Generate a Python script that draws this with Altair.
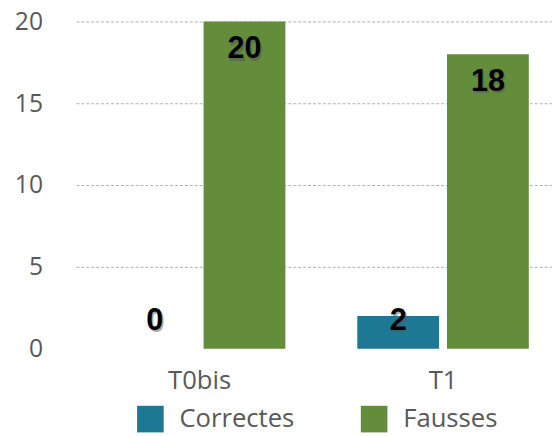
import altair as alt
import pandas as pd

categories = ["T0bis", "T1"]
series = ["Correctes", "Fausses"]
correctes = [0, 2]
fausses = [20, 18]
colors = ["#1C7893", "#638C3B"]

rows = []
for i, c in enumerate(categories):
    rows.append({"cat": c, "serie": "Correctes", "value": correctes[i]})
    rows.append({"cat": c, "serie": "Fausses", "value": fausses[i]})
df = pd.DataFrame(rows)

FONT = "Open Sans"
GRAY = "#595959"

x_enc = alt.X("cat:N", sort=categories, title=None,
              scale=alt.Scale(paddingInner=0.2955, paddingOuter=0.1255, align=0.62),
              axis=alt.Axis(labelAngle=0, labelFontSize=26, labelColor=GRAY, labelFont=FONT,
                            domain=False, ticks=False, labelPadding=19))
xo_enc = alt.XOffset("serie:N", sort=series,
                     scale=alt.Scale(paddingInner=0.088, paddingOuter=0))

bars = alt.Chart(df).mark_bar().encode(
    x=x_enc,
    xOffset=xo_enc,
    y=alt.Y("value:Q", title=None,
            scale=alt.Scale(domain=[0, 20], nice=False),
            axis=alt.Axis(values=[0, 5, 10, 15, 20], domain=False, ticks=False,
                          labelFontSize=25, labelColor=GRAY, labelFont=FONT, labelPadding=34,
                          gridColor="#b0b0b0", gridDash=[3, 2], gridWidth=1,
                          gridOpacity=alt.expr("datum.value == 0 ? 0 : 1"))),
    color=alt.Color("serie:N", sort=series,
                    scale=alt.Scale(domain=series, range=colors),
                    legend=alt.Legend(title=None, orient="none", legendX=62, legendY=390,
                                      direction="horizontal", symbolType="square",
                                      symbolSize=729, symbolStrokeWidth=0,
                                      labelFontSize=26, labelColor=GRAY, labelFont=FONT,
                                      labelOffset=16, columnPadding=67, labelLimit=300)),
)

base_text = alt.Chart(df).transform_calculate(
    ly="max(datum.value - 1.7, 1.7)"
)

shadow = base_text.mark_text(font="Liberation Sans", fontWeight="bold", fontSize=31,
                             color="#555555", opacity=0.5, baseline="middle",
                             dx=1.5, dy=2.5).encode(
    x=alt.X("cat:N", sort=categories),
    xOffset=alt.XOffset("serie:N", sort=series),
    y=alt.Y("ly:Q"),
    text=alt.Text("value:Q"),
)

labels = base_text.mark_text(font="Liberation Sans", fontWeight="bold", fontSize=31,
                             color="#000000", baseline="middle").encode(
    x=alt.X("cat:N", sort=categories),
    xOffset=alt.XOffset("serie:N", sort=series),
    y=alt.Y("ly:Q"),
    text=alt.Text("value:Q"),
)

chart = alt.layer(bars, shadow, labels).properties(
    width=483, height=332,
    autosize=alt.AutoSizeParams(type="none"),
    padding={"left": 69, "top": 10.5, "right": 0, "bottom": 86},
).configure_view(stroke=None)

chart.save("out.html", embed_options={"renderer": "svg", "actions": False})
